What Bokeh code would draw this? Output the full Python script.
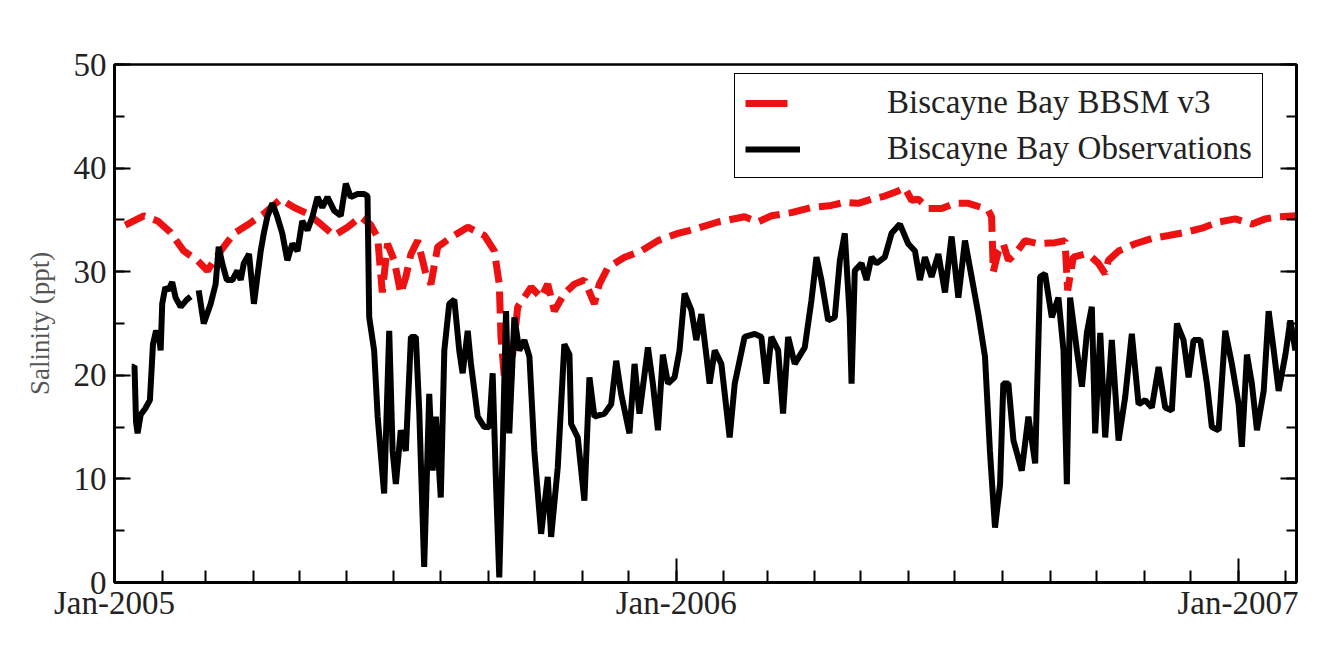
import numpy as np
import pandas as pd
from bokeh.plotting import figure
from bokeh.models import (Range1d, FixedTicker, SingleIntervalTicker, LinearAxis,
                          DatetimeTickFormatter, Legend, LegendItem, ColumnDataSource)
from bokeh.embed import file_html
from bokeh.resources import INLINE

# ---------------- data (days since 2005-01-01, salinity ppt) ----------------
start = pd.Timestamp("2005-01-01")

obs_day = [12, 13, 14, 15, 17, 20, 23, 25, 27, 29, 30, 31, 33, 35, 37.5, 39.7, 43, 47, 49.5, 52,
           54.7, 58, 62.5, 65.7, 67.7, 70, 73, 76.6, 79.8, 82, 84, 87.4, 90.6, 92.8, 95, 97, 99.3,
           102.6, 105.8, 109, 112.3, 115.6, 118.9, 122, 125.4, 128.6, 131.9, 135, 138.4, 142.7,
           147, 150.3, 153.5, 157.9, 162.2, 164.4, 165.5, 168.7, 171, 175.2, 178.5, 180.7, 182.8,
           186, 189.3, 192.6, 195.8, 198, 201.2, 204.5, 206.7, 208.8, 212, 214.3, 217.5, 220.8,
           224, 226.2, 229.5, 231.6, 236, 240.3, 243.5, 245.7, 247.9, 250, 252.2, 254.4, 256.5,
           259.8, 263, 266.3, 269.6, 272.8, 277.2, 281.5, 283.7, 288, 292.3, 295.6, 296.7, 301,
           305.3, 308.6, 311.8, 318.4, 322.7, 326, 329.2, 334.6, 337.9, 341.1, 346.6, 349.8,
           353.1, 356.3, 359.6, 363.9, 367.1, 370.4, 374.8, 378, 381.3, 384.5, 386.7, 390, 394.3,
           399.7, 403, 409.4, 416, 420.3, 423.6, 426.8, 431.2, 434.4, 437.7, 442, 448.5, 452.8,
           456.1, 459.3, 463.7, 468, 471.3, 474.5, 477.7, 478.9, 481, 485.4, 488.6, 491.9, 495.1,
           500.5, 504.9, 510.3, 515.7, 520.1, 523.3, 526.6, 530.9, 535.3, 539.6, 543.9, 548.3,
           552.6, 556.9, 561.3, 565.6, 568.8, 572.1, 575.4, 577.5, 580.8, 584.1, 589.5, 593.8,
           598.2, 601.4, 604.6, 609, 613.3, 616.6, 618.8, 620.9, 625.3, 628.6, 631.8, 635, 637.2,
           640.5, 643.7, 648, 652.4, 656.7, 661, 665.4, 669.7, 674, 678.4, 682.7, 687, 690.3,
           694.6, 697.9, 701.1, 705.5, 709.8, 713, 717.4, 721.7, 726, 730.4, 732.5, 735.8, 739,
           742.3, 746.7, 749.9, 753.2, 756.4, 760.8, 764, 767.3]
obs_val = [20.8, 20.9, 15.5, 14.4, 16.2, 16.8, 17.6, 23, 24.3, 23.6, 22.4, 26.9, 28.5, 28.2, 29,
           27.5, 26.6, 27.3, 27.6, np.nan,
           28.2, 25, 26.9, 28.8, 32.4, 30.8, 29.2, 29.2, 30.1, 29.2, 30.8, 31.7, 26.9, 29.5, 32,
           33.7, 35.3, 36.6, 35.3, 33.7, 31.1, 32.7, 32, 34.9, 34, 35.3, 37.2, 36.2, 37.2, 35.9,
           35.4, 38.5, 37.2, 37.5, 37.5, 37.3, 25.6, 22.4, 16, 8.6, 24.3, 12.7, 9.5,
           14.7, 12.7, 23.7, 23.7, 16.6, 1.5, 18.2, 10.8, 16, 8.2, 22.4, 26.9, 27.3,
           22.4, 20.2, 24.3, 21.1, 16, 15, 15, 20.2, 9.5, 0.5, 12.7, 26.2, 14.4,
           25.6, 22.4, 23.4, 21.8, 12.7, 4.7, 10.2, 4.4, 11.1, 23, 22, 15.3, 14,
           7.9, 19.8, 16, 16.3, 17.2, 21.4, 18.2, 14.4, 21.1, 16.3, 22.7, 19.2,
           14.7, 22, 19.2, 19.8, 22.4, 27.9, 26.3, 23.4, 25.9, 22, 19.2, 22.4, 21.1,
           14, 19.2, 23.7, 24, 23.7, 19.2, 23.7, 22.4, 16.3, 23.7, 21.1, 22.7, 27.2,
           31.4, 29.2, 25.3, 25.6, 31.1, 33.7, 25.6, 19.2, 30.1, 30.8, 29.2, 31.4, 30.8,
           31.4, 33.7, 34.6, 32.7, 32, 29.2, 31.4, 29.5, 31.7, 28, 33.4, 27.5,
           33, 29.5, 25.9, 21.8, 12.7, 5.3, 9.5, 19.2, 19.2, 13.7, 10.8, 16,
           11.5, 29.5, 29.8, 25.6, 27.5, 22.4, 9.5, 27.5, 22.4, 18.9, 24.1, 26.6, 14.4,
           24.1, 14, 23.4, 13.7, 17.9, 24, 17.2, 17.6, 16.9, 20.8, 16.9, 16.6, 25,
           23.4, 19.8, 23.4, 23.4, 19.2, 15, 14.7, 24.3, 21.1, 17.2, 13.1, 22, 19.2,
           14.7, 18.5, 26.2, 22.4, 18.5, 22, 25.3, 22.4]

model_day = [7, 19, 28, 36.4, 45, 53.8, 60.3, 69, 77.6, 86.3, 97.1, 108, 116.7, 125.4, 134, 142.7,
             151.4, 160, 166.6, 171, 174, 177.4, 181.7, 186, 189.3, 192.6, 197, 202.3, 205.6, 210,
             218.6, 229.5, 240.3, 246.8, 250, 251.1, 255.5, 258.7, 262, 270.7, 277.2, 281.5,
             285.8, 292.3, 298.8, 305.3, 311.8, 315, 320.6, 331.4, 342.2, 353.1, 366.1, 379.1,
             392.1, 409.4, 418.1, 426.8, 439.8, 452.8, 465.8, 474.5, 483.2, 491.9, 500.5, 509.2,
             513.5, 517.9, 522.2, 528.8, 537.4, 546.1, 554.8, 563.4, 567.8, 569.9, 571, 574.3,
             577.5, 580.8, 585.1, 591.6, 600.3, 611.1, 617.6, 619.3, 623, 630.6, 635, 639.3,
             643.7, 645.8, 652.4, 663.2, 674, 684.9, 695.7, 706.6, 717.4, 728.2, 739.1, 747.8,
             756.4, 767.3, 769]
model_val = [34.5, 35.4, 34.9, 33.8, 32, 31.1, 30.1, 32, 33.7, 34.5, 35.6, 37, 36.2, 35.6, 34.6, 33.5,
             34.3, 35.3, 34.5, 33.3, 28, 32.7, 31.1, 27.9, 29.5, 31.7, 33, 29.8, 28.8, 32.4,
             33.3, 34.3, 33.5, 32, 28.8, 23.7, 16, 22, 26.6, 28.5, 27.5, 28.8,
             26.2, 27.9, 28.8, 29.2, 26.9, 28.8, 30.4, 31.4, 32, 33, 33.7, 34.2,
             34.8, 35.3, 34.8, 35.4, 35.7, 36.2, 36.4, 36.7, 36.6, 37, 37.3, 37.8,
             38.1, 36.9, 37, 36.1, 36.1, 36.6, 36.6, 36.2, 35.9, 35.3, 30, 32,
             32.7, 31.1, 31.7, 33, 32.7, 32.8, 33, 28.2, 31.4, 31.7, 31.4, 30.8,
             29.8, 31.1, 32, 32.7, 33.2, 33.5, 33.8, 34.2, 34.8, 35.1, 34.6, 35.1,
             35.3, 35.4, 35.4]

series_labels = ["Biscayne Bay BBSM v3", "Biscayne Bay Observations"]
y_label = "Salinity (ppt)"
x_start, x_end = "2005-01-01", "2007-02-08"
major_dates = ["2005-01-01", "2006-01-01", "2007-01-01"]

# ---------------- build ----------------
def to_dt(days):
    return start + pd.to_timedelta(np.asarray(days, dtype=float), unit="D")

obs_src = ColumnDataSource(dict(x=to_dt(obs_day), y=obs_val))
mod_src = ColumnDataSource(dict(x=to_dt(model_day), y=model_val))
# legend-only sample placed outside the visible y range
leg_src = ColumnDataSource(dict(x=to_dt([0, 30]), y=[-100, -100]))

FONT = "Liberation Serif"

p = figure(width=1315, height=646, x_axis_type="datetime",
           x_range=Range1d(pd.Timestamp(x_start), pd.Timestamp(x_end)),
           y_range=Range1d(0, 50),
           output_backend="svg", toolbar_location=None,
           min_border_left=114, min_border_right=19, min_border_top=64, min_border_bottom=64)
p.background_fill_color = "white"
p.border_fill_color = "white"
p.xgrid.visible = False
p.ygrid.visible = False
p.outline_line_color = "black"
p.outline_line_width = 2.5

red = "#ee1111"
mod_r = p.line("x", "y", source=mod_src, line_color=red, line_width=7, line_dash="22 9")
obs_r = p.line("x", "y", source=obs_src, line_color="black", line_width=6)
leg_red = p.line("x", "y", source=leg_src, line_color=red, line_width=7, line_dash="42 60")

# x axis
ms = lambda s: pd.Timestamp(s).value / 1e6
month_ticks = [ms(d) for d in pd.date_range("2005-01-01", "2007-02-01", freq="MS")]
xax = p.xaxis[0]
xax.ticker = FixedTicker(ticks=[ms(d) for d in major_dates], minor_ticks=month_ticks)
fmt = "%b-%Y"
xax.formatter = DatetimeTickFormatter(years=fmt, months=fmt, days=fmt, hours=fmt, hourmin=fmt,
                                      minutes=fmt, minsec=fmt, seconds=fmt, milliseconds=fmt,
                                      microseconds=fmt)
xax.major_tick_in = 24
xax.major_tick_out = 0
xax.minor_tick_in = 12
xax.minor_tick_out = 0
xax.major_label_standoff = 2

yax = p.yaxis[0]
yax.ticker = SingleIntervalTicker(interval=10, num_minor_ticks=2)
yax.major_tick_in = 16
yax.major_tick_out = 0
yax.minor_tick_in = 10
yax.minor_tick_out = 0
yax.major_label_standoff = 8
yax.axis_label = y_label
yax.axis_label_standoff = 16
yax.axis_label_text_font = FONT
yax.axis_label_text_font_size = "27px"
yax.axis_label_text_font_style = "normal"
yax.axis_label_text_color = "#555555"

for ax in (xax, yax):
    ax.axis_line_width = 3
    ax.axis_line_color = "black"
    ax.major_tick_line_width = 2
    ax.minor_tick_line_width = 2
    ax.major_label_text_font = FONT
    ax.major_label_text_font_size = "33px"
    ax.major_label_text_color = "#222222"

rax = LinearAxis(ticker=SingleIntervalTicker(interval=10, num_minor_ticks=2))
rax.major_tick_in = 16
rax.major_tick_out = 0
rax.minor_tick_in = 10
rax.minor_tick_out = 0
rax.major_label_text_font_size = "0px"
rax.major_label_text_color = None
rax.major_label_standoff = 0
rax.axis_line_width = 3
rax.major_tick_line_width = 2
rax.minor_tick_line_width = 2
p.add_layout(rax, "right")

legend = Legend(items=[LegendItem(label=series_labels[0], renderers=[leg_red]),
                       LegendItem(label=series_labels[1], renderers=[obs_r])],
                location=(620, 404))
legend.label_text_font = FONT
legend.label_text_font_size = "33px"
legend.label_text_color = "#222222"
legend.glyph_width = 55
legend.glyph_height = 20
legend.label_standoff = 87
legend.spacing = 9
legend.padding = 10
legend.margin = 0
legend.border_line_color = "black"
legend.border_line_alpha = 1
legend.border_line_width = 1.5
legend.background_fill_color = "white"
legend.background_fill_alpha = 1
p.add_layout(legend, "center")

open("out.html", "w").write(file_html(p, INLINE))
